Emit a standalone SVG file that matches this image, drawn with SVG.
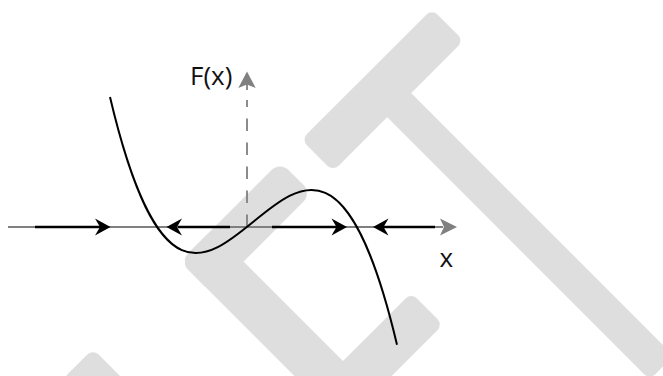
<svg xmlns="http://www.w3.org/2000/svg" width="663" height="376" viewBox="0 0 663 376">
  <style>
    .wm { fill: #dedede; }
    .axis { stroke: #808080; stroke-width: 1.8; fill: none; }
    .flow { stroke: #000; stroke-width: 2.6; fill: none; }
    .ahead { fill: #808080; }
    .bhead { fill: #000; }
    .lbl { font-family: "Open Sans", "Liberation Sans", sans-serif; font-size: 26px; fill: #111; }
  </style>
  <rect width="663" height="376" fill="#fff"/>
  <g id="watermark" transform="rotate(-45)">
    <rect class="wm" x="114.3" y="311.8" width="184.8" height="44.8" rx="8"/>
    <rect class="wm" x="190.9" y="340" width="34" height="388" rx="8"/>
    <rect class="wm" x="-57.7" y="312.2" width="141.5" height="45" rx="12"/>
    <rect class="wm" x="-57.7" y="312.2" width="45" height="230.6" rx="12"/>
    <rect class="wm" x="-57.7" y="497.8" width="141.5" height="45" rx="8"/>
    <rect class="wm" x="-226" y="312.5" width="45" height="300" rx="8"/>
  </g>
  <g id="axes">
    <line class="axis" x1="8" y1="227" x2="443" y2="227"/>
    <path class="ahead" d="M457,227 L440,218.5 L444,227 L440,235.5 Z"/>
    <line class="axis" x1="247" y1="227" x2="247" y2="100" stroke-dasharray="12.5 11.5" stroke-dashoffset="0"/>
    <line class="axis" x1="247" y1="84" x2="247" y2="90"/>
    <path class="ahead" d="M247,71.5 L238.3,88 L247,84.5 L255.7,88 Z"/>
  </g>
  <g id="connectors">
    <line class="flow" x1="35" y1="227" x2="101" y2="227"/>
    <path class="bhead" d="M110.5,227 L95,218.5 L100,227 L95,235.5 Z"/>
    <line class="flow" x1="178" y1="227" x2="230" y2="227"/>
    <path class="bhead" d="M166.5,227 L182,218.5 L177,227 L182,235.5 Z"/>
    <line class="flow" x1="272" y1="227" x2="338" y2="227"/>
    <path class="bhead" d="M347,227 L331.5,218.5 L336.5,227 L331.5,235.5 Z"/>
    <line class="flow" x1="383" y1="227" x2="435" y2="227"/>
    <path class="bhead" d="M373,227 L388.5,218.5 L383.5,227 L388.5,235.5 Z"/>
  </g>
  <g id="curve">
    <path d="M110,97.1 C205.7,502.6 301.3,-58.7 397,344.7" fill="none" stroke="#000" stroke-width="2"/>
  </g>
  <g id="labels">
    <text class="lbl" x="190" y="85">F(x)</text>
    <text class="lbl" x="439.5" y="266.5">x</text>
  </g>
</svg>
